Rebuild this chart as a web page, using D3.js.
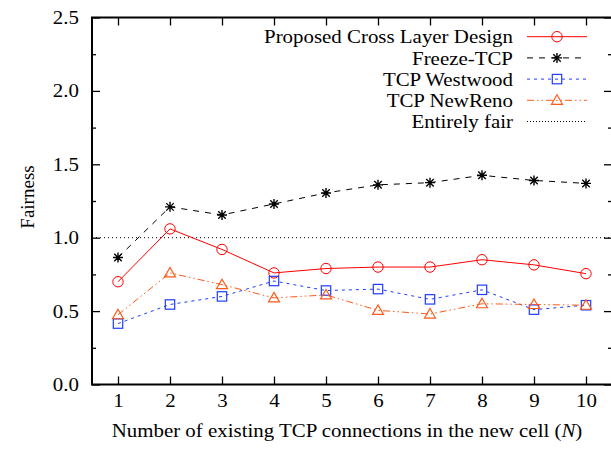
<!DOCTYPE html>
<html><head><meta charset="utf-8">
<script src="https://cdn.jsdelivr.net/npm/d3@7"></script>
<style>body{margin:0;background:#fff}svg{display:block}text{font-family:"Liberation Serif","Times New Roman",serif;fill:#000}</style>
</head><body><svg id="c" width="611" height="451"></svg>
<script>
const xValues = [1,2,3,4,5,6,7,8,9,10];
const proposed = [0.70,1.06,0.92,0.76,0.79,0.80,0.80,0.85,0.815,0.755];
const freeze = [0.865,1.21,1.155,1.23,1.305,1.36,1.375,1.425,1.39,1.37];
const westwood = [0.415,0.545,0.60,0.705,0.64,0.65,0.58,0.645,0.51,0.54];
const newreno = [0.475,0.76,0.68,0.59,0.61,0.505,0.48,0.55,0.545,0.54];
const fairLevel = 1.0;
const yTicks = [0,0.5,1.0,1.5,2.0,2.5];
const seriesNames = ["Proposed Cross Layer Design","Freeze-TCP","TCP Westwood","TCP NewReno","Entirely fair"];

const FS = "19px", SX = 1.1;
const svg = d3.select("#c");
const L=92,R=612,T=17.5,B=384.5;
const x = d3.scaleLinear().domain([0.5,10.5]).range([L,R]);
const y = d3.scaleLinear().domain([0,2.5]).range([B,T]);

const series = [
 {name:seriesNames[0], data:proposed, color:"#ff0000", dash:null, marker:"circle"},
 {name:seriesNames[1], data:freeze, color:"#000000", dash:"6,6", marker:"star"},
 {name:seriesNames[2], data:westwood, color:"#1f3cff", dash:"3,4", marker:"square"},
 {name:seriesNames[3], data:newreno, color:"#ff5a1a", dash:"7,3,1.5,3,1.5,3", marker:"triangle"}
];

// fair line
svg.append("line").attr("x1",x(0.5)).attr("x2",x(10.5)).attr("y1",y(fairLevel)).attr("y2",y(fairLevel))
  .attr("stroke","#000").attr("stroke-width",1).attr("stroke-dasharray","1,3");

// axes
const minorTicks = d3.range(0,2.51,0.25);
const g = svg.append("g");
const axL = d3.axisLeft(y).tickValues(yTicks).tickFormat(d3.format(".1f")).tickSizeInner(-8).tickSizeOuter(0).tickPadding(13);
const gl = g.append("g").attr("transform",`translate(${L},0)`).call(axL);
const axLm = d3.axisLeft(y).tickValues(minorTicks.filter(v=>!yTicks.includes(v))).tickFormat("").tickSizeInner(-4).tickSizeOuter(0);
g.append("g").attr("transform",`translate(${L},0)`).call(axLm);
const axR = d3.axisRight(y).tickValues(yTicks).tickFormat("").tickSizeInner(-8).tickSizeOuter(0);
g.append("g").attr("transform",`translate(${R},0)`).call(axR);
const axRm = d3.axisRight(y).tickValues(minorTicks.filter(v=>!yTicks.includes(v))).tickFormat("").tickSizeInner(-4).tickSizeOuter(0);
g.append("g").attr("transform",`translate(${R},0)`).call(axRm);
const axB = d3.axisBottom(x).tickValues(xValues).tickFormat(d3.format("d")).tickSizeInner(-8).tickSizeOuter(0).tickPadding(9);
const gb = g.append("g").attr("transform",`translate(0,${B})`).call(axB);
const axT = d3.axisTop(x).tickValues(xValues).tickFormat("").tickSizeInner(-8).tickSizeOuter(0);
g.append("g").attr("transform",`translate(0,${T})`).call(axT);
g.selectAll(".domain").remove();
g.selectAll(".tick line").attr("stroke","#000").attr("stroke-width",1.3);
g.selectAll(".tick text").style("font-size",FS).style("font-family","Liberation Serif")
  .attr("transform",`scale(${SX},1)`)
  .attr("x",function(){ return (+d3.select(this).attr("x")||0)/SX; });
svg.append("rect").attr("x",L).attr("y",T).attr("width",R-L).attr("height",B-T).attr("fill","none").attr("stroke","#000").attr("stroke-width",2);

// markers
function drawMarker(sel, type, cx, cy, color){
  if(type==="circle") sel.append("circle").attr("cx",cx).attr("cy",cy).attr("r",5.2).attr("fill","none").attr("stroke",color).attr("stroke-width",1);
  else if(type==="square") sel.append("rect").attr("x",cx-4.7).attr("y",cy-4.7).attr("width",9.4).attr("height",9.4).attr("fill","none").attr("stroke",color).attr("stroke-width",1.2);
  else if(type==="triangle") sel.append("path").attr("d",`M${cx},${cy-5.5}L${cx+5.5},${cy+4}L${cx-5.5},${cy+4}Z`).attr("fill","none").attr("stroke",color).attr("stroke-width",1.2);
  else if(type==="star"){
    const s=5;
    sel.append("path").attr("d",`M${cx-s},${cy}H${cx+s}M${cx},${cy-s}V${cy+s}M${cx-s*0.75},${cy-s*0.75}L${cx+s*0.75},${cy+s*0.75}M${cx-s*0.75},${cy+s*0.75}L${cx+s*0.75},${cy-s*0.75}`)
      .attr("stroke",color).attr("stroke-width",1.4);
  }
}

const line = d3.line().x((d,i)=>x(xValues[i])).y(d=>y(d));
series.forEach(s=>{
  svg.append("path").attr("d",line(s.data)).attr("fill","none").attr("stroke",s.color).attr("stroke-width",1)
    .attr("stroke-dasharray",s.dash);
  const mg = svg.append("g");
  s.data.forEach((v,i)=>drawMarker(mg,s.marker,x(xValues[i]),y(v),s.color));
});

// legend
const lg = svg.append("g");
const rows = [...series, {name:seriesNames[4], color:"#000", dash:"1,2", marker:null}];
rows.forEach((s,i)=>{
  const yy = 36.7 + i*21.2;
  lg.append("text").attr("transform",`translate(513,${yy+6.6}) scale(${SX},1)`).attr("text-anchor","end").style("font-size",FS).text(s.name);
  lg.append("line").attr("x1",527).attr("x2",587).attr("y1",yy).attr("y2",yy).attr("stroke",s.color).attr("stroke-width",1)
    .attr("stroke-dasharray",s.dash);
  if(s.marker) drawMarker(lg,s.marker,557,yy,s.color);
});

// axis titles
svg.append("text").attr("transform",`translate(347,436.5) scale(${SX},1)`).attr("text-anchor","middle").style("font-size",FS)
  .html('Number of existing TCP connections in the new cell (<tspan font-style="italic">N</tspan>)');
svg.append("text").attr("transform","translate(33.5,197) rotate(-90)").attr("text-anchor","middle").style("font-size",FS).text("Fairness");
</script></body></html>
